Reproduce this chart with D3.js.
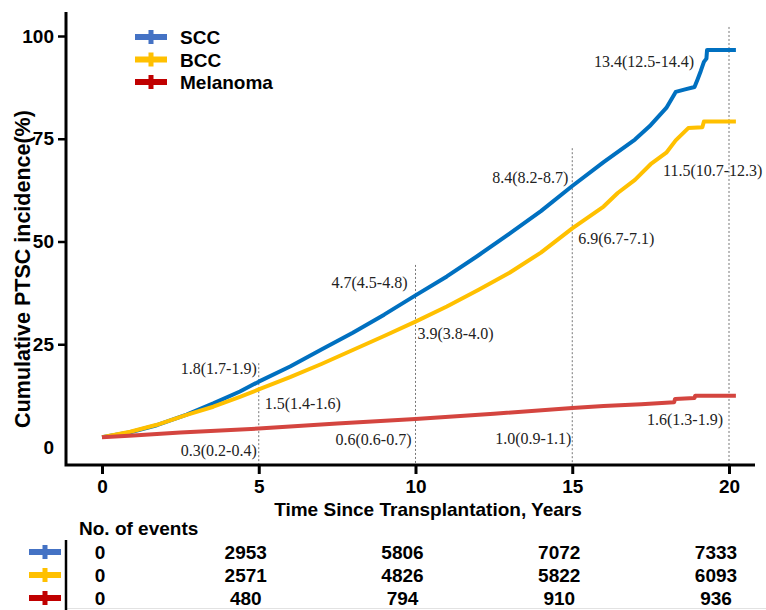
<!DOCTYPE html>
<html>
<head>
<meta charset="utf-8">
<script src="https://cdn.jsdelivr.net/npm/d3@7"></script>
<style>
  body { margin: 0; background: #fff; }
  svg { display: block; }
  .bold { font-family: "Liberation Sans", Arial, sans-serif; font-weight: bold; fill: #000; }
  .note { font-family: "Liberation Serif", "Times New Roman", serif; font-size: 16px; fill: #222; }
</style>
</head>
<body>
<svg id="chart" width="766" height="610"></svg>
<script>
"use strict";

// series names
const seriesNames = ["SCC", "BCC", "Melanoma"];

// cumulative curves: [years, axis value]
const sccCurve = [
    [0, 2.4], [0.9, 3.6], [1.75, 5.3], [2.7, 7.9], [3.55, 10.6], [4.4, 13.5], [5, 15.9],
    [6, 19.6], [7, 23.7], [8, 27.8], [9, 32.2], [10, 36.9], [11, 41.5], [12, 46.6],
    [13, 51.9], [14, 57.4], [15, 63.5], [16, 69.3], [17, 74.8], [17.5, 78.3],
    [18, 82.5], [18.3, 86.4], [18.6, 87.0], [18.9, 87.6], [19.0, 89.5], [19.1, 91.5],
    [19.2, 93.7], [19.28, 94.5], [19.3, 96.6], [20.22, 96.6]
];
const bccCurve = [
    [0, 2.4], [0.9, 3.7], [1.75, 5.4], [2.7, 7.8], [3.55, 9.8], [4.4, 12.2], [5, 14.0],
    [6, 17.0], [7, 20.2], [8, 23.6], [9, 27.0], [10, 30.5], [11, 34.2], [12, 38.2],
    [13, 42.4], [14, 47.3], [15, 53.2], [16, 58.5], [16.45, 61.8], [17, 65.0], [17.5, 68.8],
    [18, 71.6], [18.3, 74.6], [18.7, 77.6], [19.15, 77.8], [19.2, 79.2], [20.22, 79.2]
];
const melanomaCurve = [
    [0, 2.4], [1, 2.8], [2.5, 3.5], [5, 4.5], [7.5, 5.7], [10, 6.8], [12.5, 8.1],
    [15, 9.5], [16, 10.0], [17.2, 10.4], [18.25, 10.9], [18.28, 11.7], [18.9, 11.9],
    [18.92, 12.5], [20.22, 12.5]
];

// time points of the table and of the annotations
const timePoints = [0, 5, 10, 15, 20];
const sccEvents = [0, 2953, 5806, 7072, 7333];
const bccEvents = [0, 2571, 4826, 5822, 6093];
const melanomaEvents = [0, 480, 794, 910, 936];

// incidence labels at 5/10/15/20 years
const sccLabels = ["1.8(1.7-1.9)", "4.7(4.5-4.8)", "8.4(8.2-8.7)", "13.4(12.5-14.4)"];
const bccLabels = ["1.5(1.4-1.6)", "3.9(3.8-4.0)", "6.9(6.7-7.1)", "11.5(10.7-12.3)"];
const melanomaLabels = ["0.3(0.2-0.4)", "0.6(0.6-0.7)", "1.0(0.9-1.1)", "1.6(1.3-1.9)"];

const yTicks = [0, 25, 50, 75, 100];
const xTicks = [0, 5, 10, 15, 20];

// ---------------------------------------------------------------
const curveColors = ["#0070C0", "#FFC000", "#D4453F"];
const legendColors = ["#4472C4", "#FFC000", "#C00000"];

const svg = d3.select("#chart");

const x = d3.scaleLinear().domain([0, 20]).range([102, 729]);
const y = d3.scaleLinear().domain([0, 100]).range([447, 36]);

const axisLeft = 66, axisBottom = 465, axisTop = 12, axisRight = 755;

// dotted guides
const guideTops = [20.4, 44.3, 72.7, 102.2];
svg.append("g").selectAll("line")
    .data(timePoints.slice(1))
    .join("line")
    .attr("x1", d => x(d)).attr("x2", d => x(d))
    .attr("y1", (d, i) => y(guideTops[i])).attr("y2", axisBottom)
    .attr("stroke", "#777").attr("stroke-width", 1)
    .attr("stroke-dasharray", "2,2");

// curves
const line = d3.line().x(d => x(d[0])).y(d => y(d[1]));
const curves = [sccCurve, bccCurve, melanomaCurve];
svg.append("g").selectAll("path")
    .data(curves)
    .join("path")
    .attr("d", line)
    .attr("fill", "none")
    .attr("stroke", (d, i) => curveColors[i])
    .attr("stroke-width", 4)
    .attr("stroke-linejoin", "round");

// axes
const yAxis = d3.axisLeft(y).tickValues(yTicks).tickSize(8).tickPadding(4);
const yG = svg.append("g").attr("transform", "translate(" + axisLeft + ",0)").call(yAxis);
yG.select(".domain").remove();
yG.selectAll(".tick line").attr("stroke", "#000").attr("stroke-width", 2.5)
    .filter(d => d === 0).remove();
yG.selectAll(".tick text").attr("class", "bold").style("font-size", "19px").attr("font-family", null).attr("font-size", null);

const xAxis = d3.axisBottom(x).tickValues(xTicks).tickSize(9).tickPadding(6);
const xG = svg.append("g").attr("transform", "translate(0," + axisBottom + ")").call(xAxis);
xG.select(".domain").remove();
xG.selectAll(".tick line").attr("stroke", "#000").attr("stroke-width", 3);
xG.selectAll(".tick text").attr("class", "bold").style("font-size", "19px").attr("font-family", null).attr("font-size", null);

svg.append("path")
    .attr("d", "M" + axisLeft + "," + axisTop + "V" + axisBottom + "H" + axisRight)
    .attr("fill", "none").attr("stroke", "#000").attr("stroke-width", 3);

// axis titles
svg.append("text").attr("class", "bold")
    .attr("x", 428).attr("y", 516)
    .attr("text-anchor", "middle").style("font-size", "19px")
    .text("Time Since Transplantation, Years");
svg.append("text").attr("class", "bold")
    .attr("transform", "translate(30,269) rotate(-90)")
    .attr("text-anchor", "middle").style("font-size", "21.5px")
    .text("Cumulative PTSC incidence(%)");

// legend marker: thick bar with a short cross bar
function marker(g, cx, cy, color) {
    g.append("rect").attr("x", cx - 16).attr("y", cy - 3).attr("width", 32).attr("height", 6).attr("fill", color);
    g.append("rect").attr("x", cx - 2.5).attr("y", cy - 7).attr("width", 5).attr("height", 14).attr("fill", color);
}

const legend = svg.append("g");
seriesNames.forEach((name, i) => {
    const cy = 37 + i * 22.5;
    marker(legend, 151, cy, legendColors[i]);
    legend.append("text").attr("class", "bold")
        .attr("x", 180).attr("y", cy + 7)
        .style("font-size", "19px")
        .text(name);
});

// annotations: [anchor, dx, baseline]
const notePlacement = [
    [["end", -2, 374], ["end", -8, 288], ["end", -4, 183], ["end", -35, 67]],
    [["start", 6, 409], ["start", 2, 339], ["start", 6, 244], ["start", -66, 176]],
    [["end", -2, 456], ["end", -4, 445], ["end", -1, 444], ["end", -6, 425]]
];
const noteLabels = [sccLabels, bccLabels, melanomaLabels];
const notes = svg.append("g");
noteLabels.forEach((labels, s) => {
    labels.forEach((txt, i) => {
        const p = notePlacement[s][i];
        notes.append("text").attr("class", "note")
            .attr("x", x(timePoints[i + 1]) + p[1])
            .attr("y", p[2])
            .attr("text-anchor", p[0])
            .text(txt);
    });
});

// number of events table
svg.append("text").attr("class", "bold")
    .attr("x", 79).attr("y", 535)
    .style("font-size", "19px")
    .text("No. of events");

svg.append("line")
    .attr("x1", axisLeft).attr("x2", 766).attr("y1", 608.5).attr("y2", 608.5)
    .attr("stroke", "#e2e2e2").attr("stroke-width", 1);
svg.append("line")
    .attr("x1", axisLeft).attr("x2", axisLeft).attr("y1", 540).attr("y2", 610)
    .attr("stroke", "#000").attr("stroke-width", 2.5);

const tableX = t => x(t) - (t > 0 ? 13 : 2);
const eventRows = [sccEvents, bccEvents, melanomaEvents];
const table = svg.append("g");
eventRows.forEach((row, r) => {
    const cy = 552 + r * 23;
    marker(table, 45, cy, legendColors[r]);
    table.selectAll(null)
        .data(row)
        .join("text")
        .attr("class", "bold")
        .attr("x", (d, i) => tableX(timePoints[i]))
        .attr("y", cy + 7)
        .attr("text-anchor", "middle")
        .style("font-size", "19px")
        .text(d => d);
});
</script>
</body>
</html>
